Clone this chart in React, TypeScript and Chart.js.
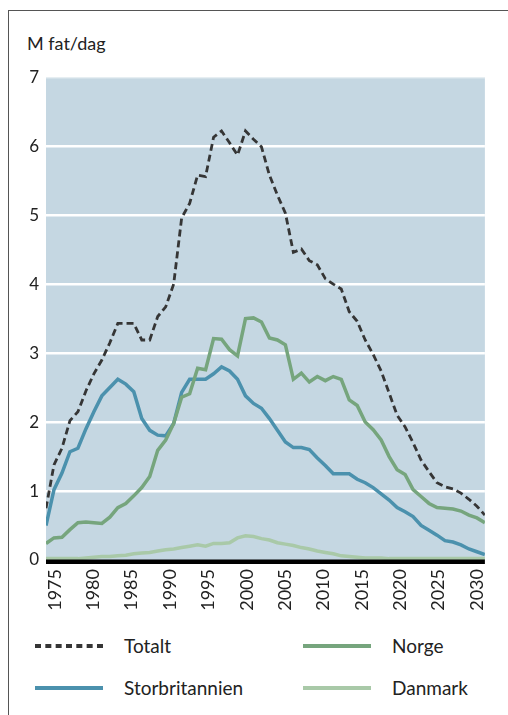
import React, { useEffect, useRef } from "react";
import { Chart, registerables } from "chart.js";

Chart.register(...registerables);

const YEARS = [
  1975, 1976, 1977, 1978, 1979, 1980, 1981, 1982, 1983, 1984,
  1985, 1986, 1987, 1988, 1989, 1990, 1991, 1992, 1993, 1994,
  1995, 1996, 1997, 1998, 1999, 2000, 2001, 2002, 2003, 2004,
  2005, 2006, 2007, 2008, 2009, 2010, 2011, 2012, 2013, 2014,
  2015, 2016, 2017, 2018, 2019, 2020, 2021, 2022, 2023, 2024,
  2025, 2026, 2027, 2028, 2029, 2030,
];

const TOTALT = [
  0.75, 1.38, 1.62, 2.02, 2.15, 2.45, 2.7, 2.9, 3.15, 3.43,
  3.43, 3.43, 3.19, 3.19, 3.53, 3.67, 4.0, 4.96, 5.17, 5.58,
  5.56, 6.13, 6.22, 6.05, 5.87, 6.22, 6.1, 5.99, 5.58, 5.29,
  5.03, 4.46, 4.51, 4.34, 4.28, 4.08, 4.0, 3.93, 3.6, 3.46,
  3.19, 2.98, 2.74, 2.42, 2.1, 1.93, 1.7, 1.45, 1.28, 1.12,
  1.06, 1.03, 0.97, 0.88, 0.78, 0.65,
];

const STORBRITANNIEN = [
  0.5, 1.02, 1.26, 1.57, 1.62, 1.9, 2.15, 2.38, 2.5, 2.62,
  2.55, 2.44, 2.05, 1.88, 1.81, 1.8, 1.98, 2.43, 2.62, 2.62,
  2.62, 2.7, 2.8, 2.74, 2.62, 2.38, 2.27, 2.2, 2.05, 1.88,
  1.71, 1.63, 1.63, 1.6, 1.48, 1.37, 1.25, 1.25, 1.25, 1.17,
  1.12, 1.05, 0.96, 0.87, 0.76, 0.7, 0.63, 0.5, 0.43, 0.36,
  0.28, 0.26, 0.22, 0.16, 0.12, 0.08,
];

const NORGE = [
  0.24, 0.32, 0.33, 0.44, 0.54, 0.55, 0.54, 0.53, 0.62, 0.76,
  0.82, 0.93, 1.05, 1.21, 1.59, 1.74, 1.98, 2.36, 2.41, 2.78,
  2.76, 3.21, 3.2, 3.05, 2.96, 3.5, 3.51, 3.45, 3.22, 3.19,
  3.12, 2.62, 2.71, 2.58, 2.66, 2.6, 2.66, 2.62, 2.32, 2.24,
  2.0, 1.89, 1.74, 1.5, 1.31, 1.24, 1.02, 0.92, 0.82, 0.76,
  0.75, 0.74, 0.71, 0.65, 0.61, 0.54,
];

const DANMARK = [
  0.02, 0.02, 0.02, 0.02, 0.02, 0.03, 0.04, 0.05, 0.05, 0.06,
  0.07, 0.09, 0.1, 0.11, 0.13, 0.15, 0.16, 0.18, 0.2, 0.22,
  0.2, 0.24, 0.24, 0.25, 0.32, 0.35, 0.34, 0.31, 0.29, 0.25,
  0.23, 0.21, 0.18, 0.16, 0.13, 0.11, 0.09, 0.06, 0.05, 0.04,
  0.03, 0.03, 0.03, 0.02, 0.02, 0.02, 0.02, 0.02, 0.02, 0.02,
  0.02, 0.02, 0.02, 0.02, 0.02, 0.02,
];

const X_TICKS = [1975, 1980, 1985, 1990, 1995, 2000, 2005, 2010, 2015, 2020, 2025, 2030];
const Y_TICKS = [0, 1, 2, 3, 4, 5, 6, 7];

const Y_TITLE = "M fat/dag";

const SERIES_NAMES = ["Totalt", "Norge", "Storbritannien", "Danmark"];
const SERIES_COLORS = ["#353535", "#76a57d", "#4b91ad", "#a9c9a8"];

const FONT = "Lato, 'Open Sans', sans-serif";

const bgPlugin = {
  id: "plotBg",
  beforeDraw(chart: any) {
    const { ctx, chartArea } = chart;
    ctx.save();
    ctx.fillStyle = "#c5d7e2";
    ctx.fillRect(chartArea.left, chartArea.top, chartArea.right - chartArea.left, chartArea.bottom - chartArea.top);
    ctx.restore();
  },
  afterDraw(chart: any) {
    const { ctx, chartArea } = chart;
    ctx.save();
    ctx.fillStyle = "#000";
    ctx.fillRect(chartArea.left, chartArea.bottom - 0.5, chartArea.right - chartArea.left, 4.5);
    ctx.restore();
  },
};

function toPoints(values: number[]) {
  return YEARS.map((yr, i) => ({ x: yr, y: values[i] }));
}

function LegendItem({ name, color, dashed, left, top }: any) {
  return (
    <div style={{ position: "absolute", left, top, height: 24, display: "flex", alignItems: "center" }}>
      <svg width={68} height={8} style={{ display: "block" }}>
        <line
          x1={0}
          y1={4}
          x2={68}
          y2={4}
          stroke={color}
          strokeWidth={4}
          strokeDasharray={dashed ? "6 4.33" : undefined}
        />
      </svg>
      <span
        style={{
          marginLeft: 21,
          fontFamily: FONT,
          fontSize: 19,
          color: "#222",
          lineHeight: "24px",
          whiteSpace: "nowrap",
        }}
      >
        {name}
      </span>
    </div>
  );
}

export default function App() {
  const canvasRef = useRef<HTMLCanvasElement | null>(null);

  useEffect(() => {
    if (!canvasRef.current) return;
    const chart = new Chart(canvasRef.current, {
      type: "line",
      data: {
        datasets: [
          {
            label: SERIES_NAMES[3],
            data: toPoints(DANMARK),
            borderColor: SERIES_COLORS[3],
            borderWidth: 3.5,
            pointRadius: 0,
            xAxisID: "x",
            yAxisID: "y",
          },
          {
            label: SERIES_NAMES[1],
            data: toPoints(NORGE),
            borderColor: SERIES_COLORS[1],
            borderWidth: 3.5,
            pointRadius: 0,
            xAxisID: "x",
            yAxisID: "y",
          },
          {
            label: SERIES_NAMES[2],
            data: toPoints(STORBRITANNIEN),
            borderColor: SERIES_COLORS[2],
            borderWidth: 3.5,
            pointRadius: 0,
            xAxisID: "x",
            yAxisID: "y",
          },
          {
            label: SERIES_NAMES[0],
            data: toPoints(TOTALT),
            borderColor: SERIES_COLORS[0],
            borderWidth: 2.8,
            borderDash: [7, 4],
            pointRadius: 0,
            xAxisID: "x",
            yAxisID: "y",
          },
        ],
      },
      options: {
        animation: false,
        responsive: false,
        maintainAspectRatio: false,
        layout: { padding: { top: 12, right: 18, left: 0, bottom: 0 } },
        plugins: { legend: { display: false }, tooltip: { enabled: false } },
        elements: { line: { tension: 0, borderJoinStyle: "miter" } },
        scales: {
          x: {
            type: "linear",
            min: YEARS[0],
            max: YEARS[YEARS.length - 1],
            display: false,
          },
          x2: {
            type: "linear",
            position: "bottom",
            min: 1973.84,
            max: 2031.03,
            afterBuildTicks: (s: any) => {
              s.ticks = X_TICKS.map((v) => ({ value: v }));
            },
            afterFit: (s: any) => {
              s.height = 60;
            },
            grid: { display: false, drawTicks: false },
            border: { display: false },
            ticks: {
              autoSkip: false,
              maxRotation: 90,
              minRotation: 90,
              padding: 9,
              color: "#222",
              font: { family: FONT, size: 18 },
              callback: (v: any) => String(v),
            },
          },
          y: {
            type: "linear",
            min: 0,
            max: 7,
            afterBuildTicks: (s: any) => {
              s.ticks = Y_TICKS.map((v) => ({ value: v }));
            },
            afterFit: (s: any) => {
              s.width = 46;
            },
            grid: {
              drawTicks: false,
              lineWidth: 2.5,
              color: (ctx: any) =>
                ctx.tick && ctx.tick.value === 0
                  ? "rgba(0,0,0,0)"
                  : ctx.tick && ctx.tick.value === 7
                  ? "rgba(255,255,255,0.45)"
                  : "#ffffff",
            },
            border: { display: false },
            ticks: {
              padding: 7,
              color: "#222",
              font: { family: FONT, size: 17 },
              callback: (v: any) => String(v),
            },
          },
        },
      },
      plugins: [bgPlugin],
    });
    return () => chart.destroy();
  }, []);

  return (
    <div style={{ position: "absolute", left: 0, top: 0, width: 508, height: 715, background: "#fff", overflow: "hidden" }}>
      <div
        style={{
          position: "absolute",
          left: 8,
          top: 10,
          width: 520,
          height: 720,
          borderLeft: "1.5px solid #555",
          borderTop: "1.5px solid #555",
        }}
      />
      <div
        style={{
          position: "absolute",
          left: 27,
          top: 31,
          fontFamily: FONT,
          fontSize: 18,
          lineHeight: "24px",
          color: "#222",
          whiteSpace: "nowrap",
        }}
      >
        {Y_TITLE}
      </div>
      <canvas
        ref={canvasRef}
        width={508}
        height={560}
        style={{ position: "absolute", left: 0, top: 60, width: 508, height: 560 }}
      />
      <LegendItem name={SERIES_NAMES[0]} color={SERIES_COLORS[0]} dashed left={35} top={634} />
      <LegendItem name={SERIES_NAMES[1]} color={SERIES_COLORS[1]} left={303} top={634} />
      <LegendItem name={SERIES_NAMES[2]} color={SERIES_COLORS[2]} left={35} top={676} />
      <LegendItem name={SERIES_NAMES[3]} color={SERIES_COLORS[3]} left={303} top={676} />
    </div>
  );
}
